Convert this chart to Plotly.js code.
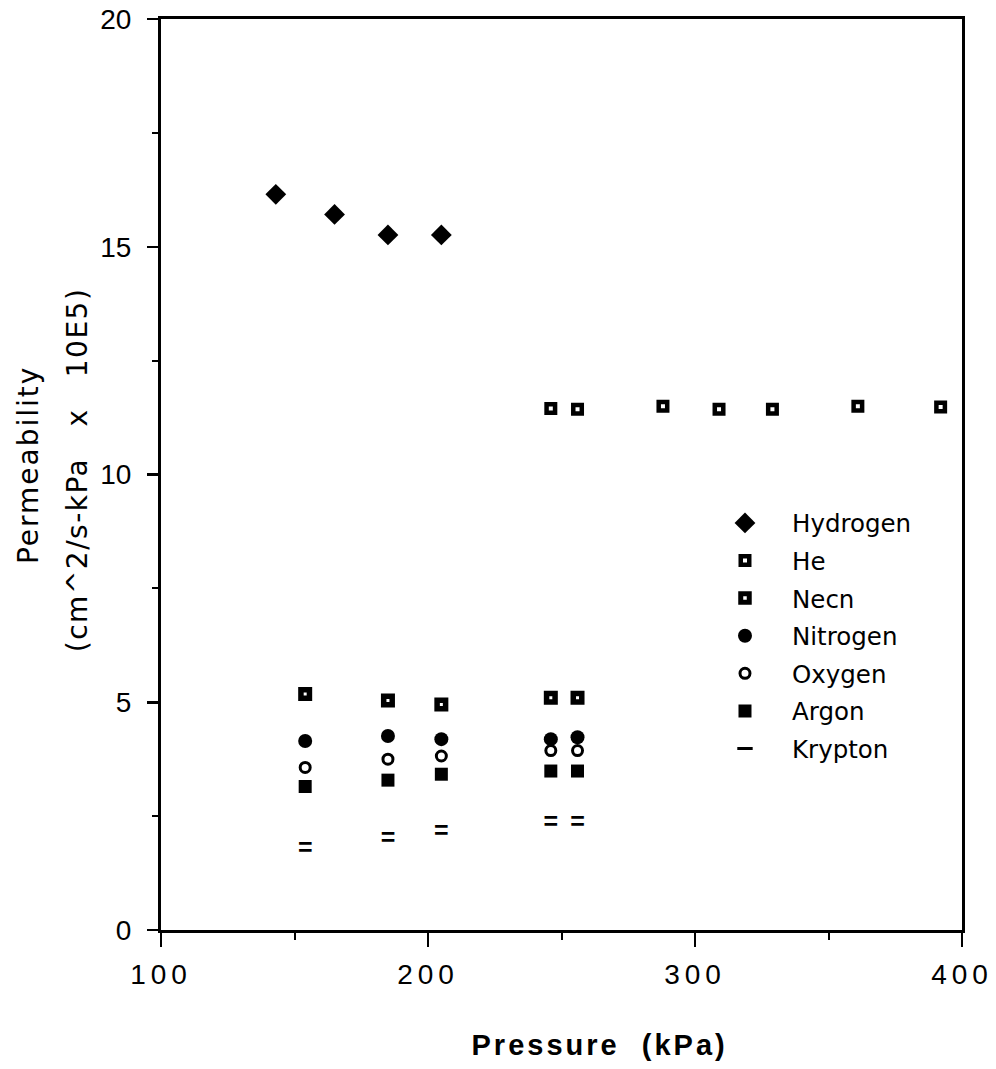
<!DOCTYPE html>
<html>
<head>
<meta charset="utf-8">
<script src="https://cdn.plot.ly/plotly-3.0.1.min.js"></script>
<style>
body{margin:0;background:#fff}
#chart{width:996px;height:1069px}
#chart .xtick text{letter-spacing:5px}
#chart g.annotation[data-index="0"] text{letter-spacing:3px}
#chart g.annotation[data-index="1"] text{letter-spacing:2px}
#chart g.annotation[data-index="2"] text{letter-spacing:1.5px}
</style>
</head>
<body>
<div id="chart"></div>
<script>
// Data
const hydrogenP = [143, 165, 185, 205];
const hydrogenK = [16.15, 15.71, 15.26, 15.26];

const heliumP = [246, 256, 288, 309, 329, 361, 392];
const heliumK = [11.45, 11.43, 11.5, 11.43, 11.43, 11.5, 11.48];

const mixP = [154, 185, 205, 246, 256];
const neonK = [5.18, 5.04, 4.95, 5.10, 5.10];
const nitrogenK = [4.15, 4.26, 4.19, 4.19, 4.23];
const oxygenK = [3.57, 3.75, 3.82, 3.94, 3.94];
const argonK = [3.15, 3.29, 3.42, 3.49, 3.49];
const kryptonK = [1.76, 1.98, 2.14, 2.34, 2.34];

const seriesNames = ['Hydrogen', 'He', 'Necn', 'Nitrogen', 'Oxygen', 'Argon', 'Krypton'];
const xTickVals = [100, 200, 300, 400];
const yTickVals = [0, 5, 10, 15, 20];
const xTitle = 'Pressure  (kPa)';
const yTitleLine1 = 'Permeability';
const yTitleLine2 = '(cm^2/s-kPa&nbsp;&nbsp;&nbsp;x&nbsp;&nbsp;&nbsp;10E5)';

const blk = '#000';
function tr(name, x, y, marker) {
  return {x: x, y: y, name: name, type: 'scatter', mode: 'markers',
          legendgroup: name, marker: marker, cliponaxis: false};
}
const data = [
  tr(seriesNames[0], hydrogenP, hydrogenK, {symbol: 'diamond', size: 16, color: blk}),
  tr(seriesNames[1], heliumP, heliumK, {symbol: 'square', size: 8.5, color: '#fff', line: {color: blk, width: 4.5}}),
  tr(seriesNames[2], mixP, neonK, {symbol: 'square', size: 8.5, color: '#fff', line: {color: blk, width: 5.5}}),
  tr(seriesNames[3], mixP, nitrogenK, {symbol: 'circle', size: 14, color: blk}),
  tr(seriesNames[4], mixP, oxygenK, {symbol: 'circle', size: 10, color: '#fff', line: {color: blk, width: 3}}),
  tr(seriesNames[5], mixP, argonK, {symbol: 'square', size: 13, color: blk}),
  // Krypton: legend entry
  {x: [null], y: [null], name: seriesNames[6], type: 'scatter', mode: 'markers', legendgroup: seriesNames[6],
   marker: {symbol: 'line-ew-open', size: 11, color: blk, line: {color: blk, width: 3}}},
  // Krypton: data points drawn as "=" glyphs
  {x: mixP, y: kryptonK, name: seriesNames[6], type: 'scatter', mode: 'text', text: mixP.map(() => '<b>=</b>'),
   textposition: 'middle center', legendgroup: seriesNames[6], showlegend: false, cliponaxis: false,
   textfont: {family: 'Liberation Sans, Arial, sans-serif', size: 25, color: blk}}
];

const font = 'Liberation Sans, Arial, Helvetica, sans-serif';
const wide = 'DejaVu Sans, Verdana, sans-serif';
const layout = {
  width: 996, height: 1069,
  margin: {l: 161, r: 34, t: 19, b: 139},
  paper_bgcolor: '#fff', plot_bgcolor: '#fff',
  font: {family: font, color: blk, size: 22},
  showlegend: true,
  legend: {x: 0.6704, y: 0.4715, xanchor: 'left', yanchor: 'top',
           font: {family: wide, size: 24.5, color: blk},
           tracegroupgap: 2.75, itemwidth: 84, bgcolor: 'rgba(0,0,0,0)'},
  xaxis: {range: [100, 400], tickvals: xTickVals, ticks: 'outside', ticklen: 14, tickwidth: 2.5,
          tickcolor: blk, showline: true, linewidth: 3, linecolor: blk, mirror: true,
          showgrid: false, zeroline: false, ticklabelstandoff: 3,
          minor: {dtick: 50, ticks: 'outside', ticklen: 7, tickwidth: 2, tickcolor: blk, showgrid: false},
          tickfont: {family: font, size: 28, color: blk}},
  yaxis: {range: [0, 20], tickvals: yTickVals, ticks: 'outside', ticklen: 11, tickwidth: 2.5,
          tickcolor: blk, showline: true, linewidth: 3, linecolor: blk, mirror: true,
          showgrid: false, zeroline: false, ticklabelstandoff: 10,
          minor: {dtick: 2.5, ticks: 'outside', ticklen: 6, tickwidth: 2, tickcolor: blk, showgrid: false},
          tickfont: {family: font, size: 28, color: blk}},
  annotations: [
    {text: '<b>' + xTitle + '</b>', xref: 'paper', yref: 'paper',
     x: 0.548, y: -0.1262, xanchor: 'center', yanchor: 'middle', showarrow: false,
     font: {family: font, size: 29, color: blk}},
    {text: yTitleLine1, xref: 'paper', yref: 'paper', textangle: -90,
     x: -0.166, y: 0.5104, xanchor: 'center', yanchor: 'middle', showarrow: false,
     font: {family: wide, size: 28, color: blk}},
    {text: yTitleLine2, xref: 'paper', yref: 'paper', textangle: -90,
     x: -0.1036, y: 0.505, xanchor: 'center', yanchor: 'middle', showarrow: false,
     font: {family: wide, size: 28, color: blk}}
  ]
};
Plotly.newPlot('chart', data, layout, {staticPlot: true});
</script>
</body>
</html>
